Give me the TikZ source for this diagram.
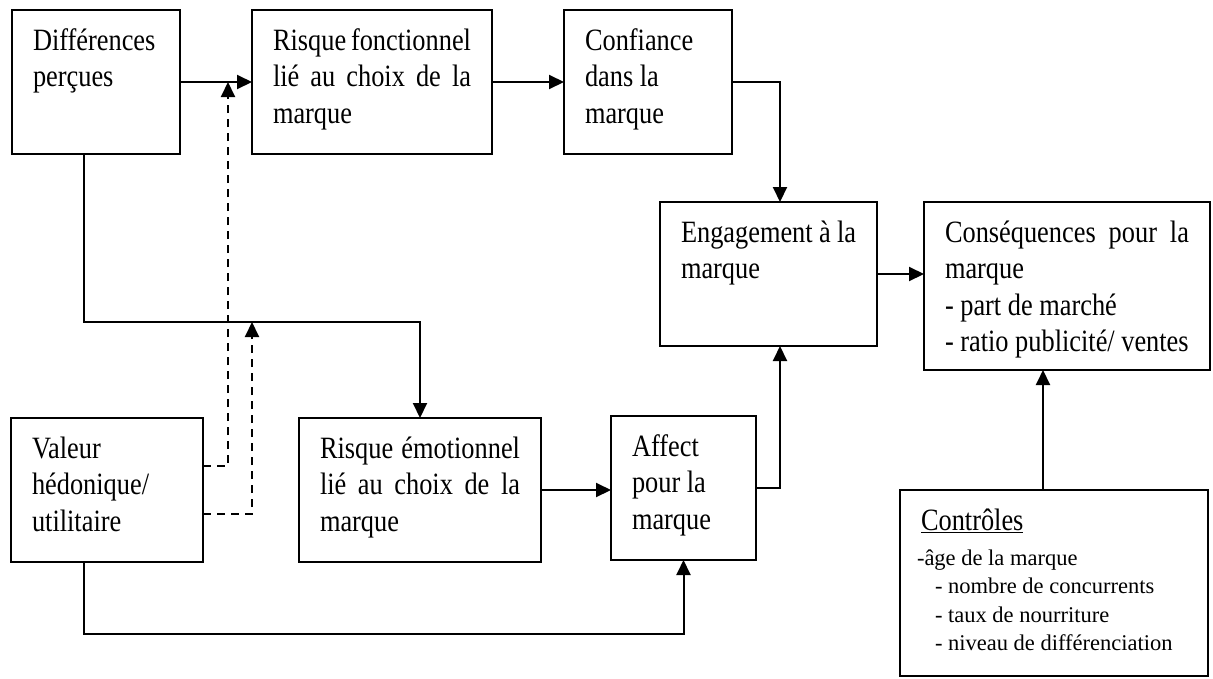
\documentclass[tikz,border=0pt]{standalone}
\usepackage{fontspec}
\setmainfont{Liberation Serif}[FakeStretch=0.85]
\newfontfamily\ctrlfont{Liberation Serif}
\usetikzlibrary{arrows.meta}
\newcommand\mfont{\fontsize{31}{36.5}\selectfont}
\newcommand\cfont{\ctrlfont\fontsize{22.5}{28.5}\selectfont}
\newcommand\bxt[3]{\parbox[c][#2][t]{#1}{\mfont\raggedright\rule{0pt}{40pt}#3}}
\newcommand\jl[1]{\makebox[\linewidth][s]{#1}}
\tikzset{
  box/.style={draw, line width=2pt, inner xsep=21pt, inner ysep=0pt, anchor=north west, outer sep=0pt},
  link/.style={line width=2pt},
  arr/.style={link, -{Triangle[length=15pt,width=14pt]}},
  dasharr/.style={arr, dash pattern=on 8pt off 6pt}
}
\begin{document}
\begin{tikzpicture}[x=1pt,y=-1pt]
\useasboundingbox[fill=white] (0,0) rectangle (1213,678);
\node[box] (diff)  at (12,10)   {\bxt{126pt}{144pt}{Différences\\perçues}};
\node[box] (fonct) at (252,10)  {\bxt{198pt}{144pt}{\jl{Risque fonctionnel}\\\jl{lié au choix de la}\\marque}};
\node[box] (conf)  at (564,10)  {\bxt{126pt}{144pt}{Confiance\\dans la\\marque}};
\node[box] (eng)   at (660,202) {\bxt{175pt}{144pt}{Engagement à la\\marque}};
\node[box] (cons)  at (924,202) {\bxt{244pt}{168pt}{\jl{Conséquences pour la}\\marque\\- part de marché\\- ratio publicité/ ventes}};
\node[box] (val)   at (11,418)  {\bxt{150pt}{144pt}{Valeur\\hédonique/\\utilitaire}};
\node[box] (emot)  at (299,418) {\bxt{200pt}{144pt}{\jl{Risque émotionnel}\\\jl{lié au choix de la}\\marque}};
\node[box] (aff)   at (611,416) {\bxt{103pt}{144pt}{Affect\\pour la\\marque}};
\node[box] (ctrl)  at (900,490) {\parbox[c][186pt][t]{266pt}{\mfont\raggedright\rule{0pt}{40pt}\underline{Contrôles}\par\vspace{6.5pt}\cfont
  \hspace*{-4pt}-âge de la marque\\
  \hspace*{14pt}- nombre de concurrents\\
  \hspace*{14pt}- taux de nourriture\\
  \hspace*{14pt}- niveau de différenciation}};
\coordinate (mid) at (0,322);
\draw[arr] (diff) -- (fonct);
\draw[arr] (fonct) -- (conf);
\draw[arr] (conf.east) -| ([xshift=11.5pt]eng.north);
\draw[arr] (eng.east) -- (eng.east -| cons.west);
\draw[arr] ([xshift=-11pt]ctrl.north) -- ([xshift=-11pt]ctrl.north |- cons.south);
\draw[arr] (emot.east) -- (emot.east -| aff.west);
\draw[arr] (aff.east) -| ([xshift=11.5pt]eng.south);
\draw[arr] ([xshift=-23pt]val.south) -- ++(0,72) -| (aff.south);
\draw[arr] ([xshift=-12pt]diff.south) |- (emot.north |- mid) -- (emot.north);
\draw[dasharr] ([yshift=24pt]val.east) -| ([xshift=-24pt]fonct.west);
\draw[dasharr] ([yshift=-24pt]val.east) -| (fonct.west |- mid);
\end{tikzpicture}
\end{document}
